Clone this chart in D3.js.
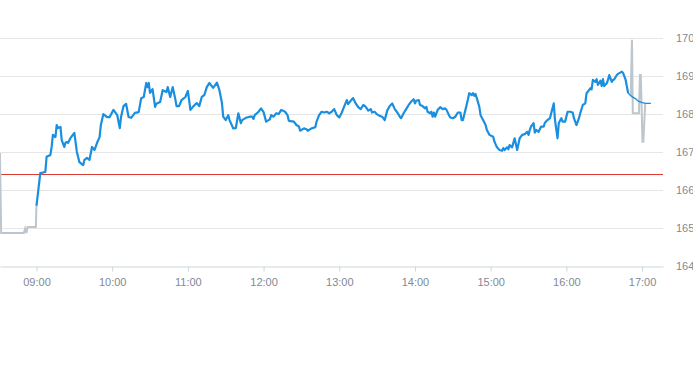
<!DOCTYPE html>
<html>
<head>
<meta charset="utf-8">
<script src="https://cdn.jsdelivr.net/npm/d3@7"></script>
<style>
  body { margin: 0; background: #fff; }
  .tick text { font-family: "Liberation Sans", Arial, sans-serif; font-size: 11px; fill: #7f8a93; }
</style>
</head>
<body>
<div id="chart"></div>
<script>
var width = 693;
var height = 365;
var plotRight = 663;

// y ticks / x ticks
var yTicks = [164, 165, 166, 167, 168, 169, 170];
var xTicks = ["09:00", "10:00", "11:00", "12:00", "13:00", "14:00", "15:00", "16:00", "17:00"];
var xStart = "08:31:04";
var xEnd = "17:16:36";

var prevClose = 166.42;

// pre-market (grey)
var preMarket = [
  ["08:31", 166.97], ["08:32", 164.86], ["08:50", 164.86], ["08:51", 164.98],
  ["08:52", 164.86], ["08:53", 165.02], ["08:59:30", 165.02], ["09:00", 165.62]
];

// regular session (blue)
var session = [
  ["09:00", 165.58], ["09:03", 166.44], ["09:07", 166.47], ["09:08", 166.87], ["09:11", 166.92],
  ["09:12", 167.13], ["09:13", 167.45], ["09:15", 167.39], ["09:16", 167.71], ["09:17", 167.63],
  ["09:19", 167.66], ["09:20", 167.31], ["09:22", 167.13], ["09:23", 167.24], ["09:24", 167.26],
  ["09:25", 167.24], ["09:27", 167.37], ["09:30", 167.50], ["09:32", 167.00], ["09:34", 166.73],
  ["09:37", 166.65], ["09:38", 166.79], ["09:40", 166.84], ["09:42", 166.79], ["09:44", 167.13],
  ["09:46", 167.05], ["09:48", 167.24], ["09:50", 167.39], ["09:51", 167.71], ["09:53", 168.00],
  ["09:56", 167.92], ["09:58", 167.92], ["10:01", 168.11], ["10:04", 167.97], ["10:06", 167.63],
  ["10:07", 167.92], ["10:09", 168.21], ["10:11", 168.27], ["10:13", 167.92], ["10:15", 167.90],
  ["10:18", 168.03], ["10:21", 168.05], ["10:23", 168.42], ["10:25", 168.45], ["10:27", 168.82],
  ["10:28", 168.71], ["10:29", 168.82], ["10:30", 168.56], ["10:32", 168.66], ["10:34", 168.19],
  ["10:35", 168.27], ["10:38", 168.32], ["10:40", 168.63], ["10:43", 168.58], ["10:44", 168.71],
  ["10:46", 168.45], ["10:48", 168.71], ["10:50", 168.40], ["10:51", 168.21], ["10:53", 168.21],
  ["10:55", 168.37], ["10:58", 168.45], ["11:00", 168.61], ["11:02", 168.11], ["11:04", 168.19],
  ["11:07", 168.29], ["11:09", 168.21], ["11:11", 168.45], ["11:13", 168.50], ["11:15", 168.71],
  ["11:17", 168.82], ["11:20", 168.69], ["11:23", 168.83], ["11:25", 168.63], ["11:27", 168.29],
  ["11:28", 167.93], ["11:30", 167.84], ["11:32", 167.97], ["11:33", 167.84], ["11:36", 167.62],
  ["11:38", 167.63], ["11:40", 168.02], ["11:42", 167.76], ["11:43", 167.84], ["11:46", 167.90],
  ["11:49", 167.93], ["11:51", 167.93], ["11:52", 167.87], ["11:53", 167.97], ["11:56", 168.06],
  ["11:58", 168.15], ["12:00", 168.05], ["12:02", 167.80], ["12:05", 167.86], ["12:06", 167.97],
  ["12:08", 167.93], ["12:10", 168.02], ["12:12", 168.00], ["12:14", 168.11], ["12:17", 168.06],
  ["12:19", 167.97], ["12:20", 167.82], ["12:24", 167.80], ["12:26", 167.71], ["12:28", 167.67],
  ["12:29", 167.56], ["12:32", 167.62], ["12:34", 167.60], ["12:35", 167.56], ["12:38", 167.62],
  ["12:41", 167.65], ["12:42", 167.80], ["12:44", 167.97], ["12:46", 168.06], ["12:48", 168.04],
  ["12:50", 168.06], ["12:52", 168.02], ["12:54", 168.06], ["12:56", 168.13], ["12:58", 167.97],
  ["13:00", 167.91], ["13:02", 168.04], ["13:04", 168.21], ["13:06", 168.37], ["13:07", 168.26],
  ["13:09", 168.35], ["13:11", 168.42], ["13:13", 168.28], ["13:15", 168.18], ["13:17", 168.13],
  ["13:19", 168.24], ["13:21", 168.19], ["13:23", 168.09], ["13:25", 168.13], ["13:26", 168.04],
  ["13:28", 168.06], ["13:30", 167.99], ["13:32", 167.95], ["13:34", 167.93], ["13:36", 167.84],
  ["13:38", 168.09], ["13:40", 168.21], ["13:42", 168.28], ["13:44", 168.13], ["13:46", 168.04],
  ["13:48", 167.93], ["13:49", 167.89], ["13:51", 168.02], ["13:53", 168.13], ["13:55", 168.24],
  ["13:57", 168.33], ["13:59", 168.39], ["14:00", 168.28], ["14:01", 168.35], ["14:03", 168.37],
  ["14:04", 168.24], ["14:06", 168.21], ["14:08", 168.15], ["14:09", 168.19], ["14:10", 168.06],
  ["14:12", 168.02], ["14:13", 168.06], ["14:14", 167.93], ["14:15", 168.04], ["14:16", 167.93],
  ["14:18", 168.11], ["14:20", 168.18], ["14:22", 168.13], ["14:24", 168.15], ["14:25", 168.11],
  ["14:27", 167.97], ["14:28", 167.91], ["14:30", 167.89], ["14:32", 167.93], ["14:34", 168.04],
  ["14:36", 168.04], ["14:37", 167.84], ["14:38", 167.84], ["14:40", 168.11], ["14:42", 168.39],
  ["14:43", 168.55], ["14:45", 168.50], ["14:46", 168.55], ["14:47", 168.48], ["14:48", 168.53],
  ["14:49", 168.42], ["14:51", 168.19], ["14:52", 167.97], ["14:54", 167.84], ["14:56", 167.71],
  ["14:57", 167.58], ["14:59", 167.45], ["15:02", 167.40], ["15:03", 167.27], ["15:05", 167.12],
  ["15:07", 167.05], ["15:09", 167.03], ["15:10", 167.10], ["15:11", 167.05], ["15:13", 167.12],
  ["15:14", 167.07], ["15:15", 167.18], ["15:17", 167.12], ["15:18", 167.24], ["15:19", 167.36],
  ["15:21", 167.05], ["15:22", 167.21], ["15:23", 167.36], ["15:25", 167.45], ["15:27", 167.47],
  ["15:29", 167.53], ["15:30", 167.45], ["15:31", 167.58], ["15:32", 167.67], ["15:34", 167.76],
  ["15:35", 167.51], ["15:36", 167.58], ["15:38", 167.53], ["15:40", 167.67], ["15:42", 167.67],
  ["15:43", 167.77], ["15:45", 167.84], ["15:47", 167.89], ["15:48", 168.02], ["15:50", 168.28],
  ["15:51", 167.84], ["15:53", 167.36], ["15:54", 167.76], ["15:56", 167.89], ["15:57", 167.80],
  ["15:59", 167.80], ["16:01", 168.06], ["16:03", 168.06], ["16:05", 168.04], ["16:06", 167.89],
  ["16:08", 167.71], ["16:10", 167.89], ["16:11", 168.02], ["16:13", 168.24], ["16:15", 168.28],
  ["16:16", 168.55], ["16:17", 168.59], ["16:19", 168.68], ["16:20", 168.65], ["16:21", 168.90],
  ["16:23", 168.85], ["16:24", 168.92], ["16:25", 168.77], ["16:27", 168.88], ["16:28", 168.74],
  ["16:29", 168.92], ["16:30", 168.74], ["16:32", 168.81], ["16:33", 168.90], ["16:34", 169.03],
  ["16:36", 168.85], ["16:37", 168.90], ["16:38", 168.92], ["16:40", 169.03], ["16:41", 169.06],
  ["16:42", 169.08], ["16:44", 169.12], ["16:45", 169.08], ["16:47", 168.90], ["16:48", 168.72],
  ["16:49", 168.55]
];

// thin tail after the last trade
var sessionTail = [
  ["16:49", 168.55], ["16:52", 168.46], ["16:55", 168.40], ["16:57", 168.34],
  ["17:00", 168.30], ["17:03", 168.28], ["17:07", 168.28]
];

// after-hours (grey)
var afterHours = [
  ["16:51", 168.47], ["16:52", 169.96], ["16:52:40", 168.02], ["16:57:30", 168.02],
  ["16:58:20", 169.03], ["16:59", 169.03], ["17:00:20", 167.27], ["17:01", 167.27],
  ["17:02:30", 168.28]
];

function parseTime(s) {
  var p = s.split(":");
  return new Date(2020, 0, 2, +p[0], +p[1], +(p[2] || 0));
}

var x = d3.scaleTime()
  .domain([parseTime(xStart), parseTime(xEnd)])
  .range([0, plotRight]);

var y = d3.scaleLinear()
  .domain([164, 170])
  .range([265.5, 38.3]);

var svg = d3.select("#chart")
  .append("svg")
  .attr("width", width)
  .attr("height", height);

// grid
svg.append("g")
  .selectAll("line")
  .data(yTicks.slice(1))
  .enter()
  .append("line")
  .attr("x1", 0)
  .attr("x2", plotRight)
  .attr("y1", function(d) { return Math.round(y(d)) + 0.5; })
  .attr("y2", function(d) { return Math.round(y(d)) + 0.5; })
  .attr("stroke", "#e6e6e6");

// y labels
var yAxis = svg.append("g")
  .attr("transform", "translate(" + plotRight + ",0)")
  .call(d3.axisRight(y).tickValues(yTicks).tickSize(0).tickPadding(13).tickFormat(d3.format("d")));
yAxis.select(".domain").remove();

// x axis
var xAxis = svg.append("g")
  .attr("transform", "translate(0," + (Math.round(y(164)) + 0.5) + ")")
  .call(d3.axisBottom(x)
    .tickValues(xTicks.map(parseTime))
    .tickFormat(d3.timeFormat("%H:%M"))
    .tickSize(5)
    .tickSizeOuter(0)
    .tickPadding(7));
xAxis.select(".domain").attr("stroke", "#ccd6dd");
xAxis.selectAll(".tick line").attr("stroke", "#ccd6dd");

// previous close
svg.append("line")
  .attr("x1", 0)
  .attr("x2", plotRight)
  .attr("y1", Math.round(y(prevClose)) + 0.5)
  .attr("y2", Math.round(y(prevClose)) + 0.5)
  .attr("stroke", "#dc3b33")
  .attr("stroke-width", 1);

var line = d3.line()
  .x(function(d) { return x(parseTime(d[0])); })
  .y(function(d) { return y(d[1]); });

svg.append("path")
  .datum(preMarket)
  .attr("d", line)
  .attr("fill", "none")
  .attr("stroke", "#bcc6cc")
  .attr("stroke-width", 2);

svg.append("path")
  .datum(afterHours)
  .attr("d", line)
  .attr("fill", "none")
  .attr("stroke", "#bcc6cc")
  .attr("stroke-width", 2);

svg.append("path")
  .datum(sessionTail)
  .attr("d", line)
  .attr("fill", "none")
  .attr("stroke", "#1a8fdf")
  .attr("stroke-width", 1.3);

svg.append("path")
  .datum(session)
  .attr("d", line)
  .attr("fill", "none")
  .attr("stroke", "#1a8fdf")
  .attr("stroke-width", 2.2)
  .attr("stroke-linejoin", "round");
</script>
</body>
</html>
